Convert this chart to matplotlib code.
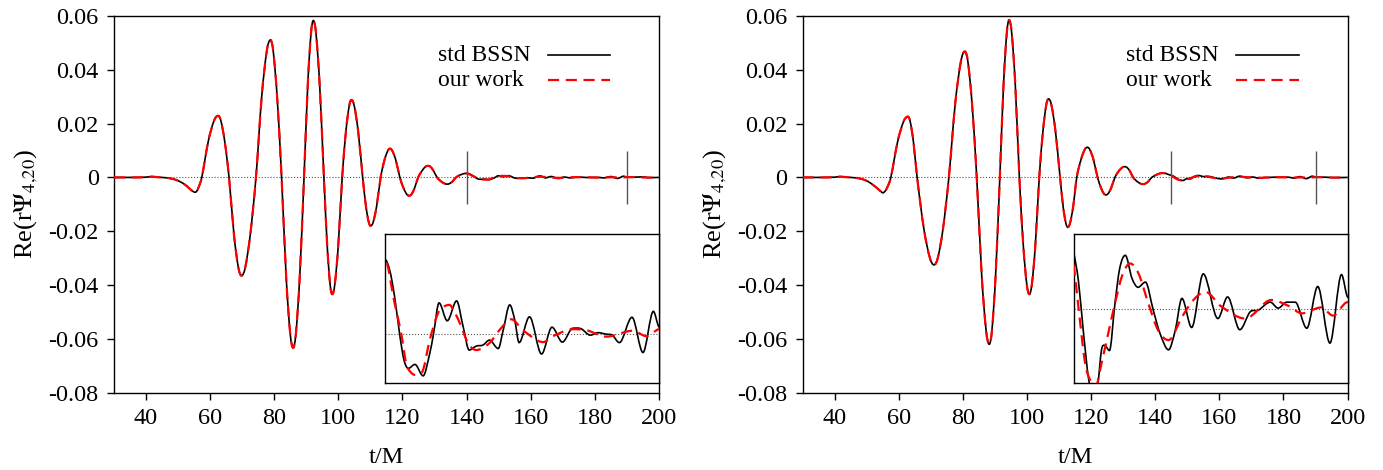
import numpy as np
import matplotlib
matplotlib.use("Agg")
import matplotlib.pyplot as plt
from matplotlib.path import Path
from matplotlib.patches import PathPatch

plt.rcParams['font.family'] = ['Liberation Serif', 'DejaVu Serif']
plt.rcParams['mathtext.fontset'] = 'stix'
plt.rcParams['axes.unicode_minus'] = False

# ---- left panel: common waveform up to t=140 (both runs overlap there)
t_left_main = [30, 36, 40, 41.8, 43.5, 46, 48.5, 50.5, 52.5, 54.0, 55.3, 55.83, 56.56,
               57.4, 59.44, 61.23, 62.5, 63.35, 64.54, 65.9, 67.46, 68.83, 69.8, 70.93, 72.5,
               74.3, 76.1, 77.68, 78.8, 79.68, 80.9, 82.3, 83.74, 85.0, 85.9, 86.75, 87.94,
               89.3, 90.46, 91.48, 92.2, 93.03, 94.18, 95.5, 96.54, 97.45, 98.1, 98.88, 99.96,
               101.2, 102.36, 103.38, 104.1, 104.98, 106.2, 107.6, 108.6, 109.48, 110.1, 110.88, 111.96,
               113.2, 114.36, 115.38, 116.1, 116.88, 117.96, 119.2, 120.36, 121.38, 122.1, 122.8, 123.78,
               124.9, 126.14, 127.2, 128.0, 128.7, 129.68, 130.8, 132.08, 133.2, 134.0, 134.68, 135.62,
               136.7, 138.0, 139.2, 140.0]
v_left_main = [0, 0, 0.0001, 0.0003, 0.0001, -0.0001, -0.0006, -0.0015, -0.0030, -0.0046, -0.0055, -0.0051, -0.0032,
               0, 0.0135, 0.0211, 0.0229, 0.0211, 0.0135, 0, -0.0215, -0.0336, -0.0365, -0.0336, -0.0215,
               0, 0.0301, 0.0470, 0.0511, 0.0470, 0.0301, 0, -0.0373, -0.0582, -0.0633, -0.0582, -0.0373,
               0, 0.0344, 0.0536, 0.0583, 0.0536, 0.0344, 0, -0.0256, -0.0399, -0.0434, -0.0399, -0.0256,
               0, 0.0170, 0.0265, 0.0288, 0.0265, 0.0170, 0, -0.0106, -0.0166, -0.0180, -0.0166, -0.0106,
               0, 0.0063, 0.0098, 0.0107, 0.0098, 0.0063, 0, -0.0040, -0.0063, -0.0068, -0.0063, -0.0040,
               0, 0.0025, 0.0040, 0.0043, 0.0040, 0.0025, 0, -0.0015, -0.0023, -0.0025, -0.0023, -0.0015,
               0, 0.0009, 0.0014, 0.0015]

# left panel tails (t > 140), values in units of 1e-3
t_left_std_tail = [140.9, 141.8, 142.7, 143.5, 144.3, 145.5, 147.0, 148.2, 148.9, 149.9, 151.4, 153.1,
                   154.3, 155.4, 156.7, 157.9, 159.1, 160.7, 161.6, 162.8, 163.7, 164.5, 166.4, 168.6,
                   170.5, 172.4, 174.3, 175.8, 177.5, 178.9, 180.4, 181.5, 182.8, 185.1, 187.1, 189.0,
                   190.0, 192.0, 195.0, 197.0, 200.0]
v_left_std_tail = [1.28, 0.74, 0.0, -0.53, -0.70, -0.62, -0.85, -0.40, 0.0, 0.62, 0.26, 0.66,
                   0.14, -0.33, -0.25, -0.23, -0.13, -0.30, 0.07, 0.58, 0.28, -0.18, 0.34, -0.41,
                   0.13, -0.17, 0.11, 0.10, -0.03, 0.02, -0.01, -0.03, -0.18, 0.33, -0.38, 0.45,
                   0.14, 0.1, 0.2, -0.1, 0.0]
t_left_our_tail = [141.8, 143.0, 143.9, 144.6, 145.5, 146.3, 147.0, 148.2, 149.7, 150.7, 151.8, 152.7,
                   153.7, 155.2, 156.7, 159.1, 160.9, 163.1, 165.2, 168.9, 170.7, 174.3, 176.8, 180.4,
                   185.3, 187.7, 190.0, 193.0, 196.0, 200.0]
v_left_our_tail = [0.61, 0.0, -0.60, -0.76, -0.83, -0.80, -0.73, -0.13, 0.41, 0.54, 0.58, 0.44,
                   0.21, -0.19, -0.33, -0.19, 0.07, 0.29, 0.07, -0.17, -0.05, 0.09, 0.07, -0.06,
                   0.06, -0.05, 0.09, 0.1, -0.05, 0.0]

# ---- right panel
t_right_main = [30, 36, 40, 41.6, 43.5, 46, 48.5, 50.5, 52.5, 54.0, 55.0, 55.63, 56.5,
                57.5, 59.62, 61.48, 62.8, 63.53, 64.54, 65.7, 67.82, 69.68, 71.0, 72.15, 73.76,
                75.6, 77.6, 79.35, 80.6, 81.53, 82.82, 84.3, 85.86, 87.23, 88.2, 89.03, 90.18,
                91.5, 92.66, 93.68, 94.4, 95.2, 96.32, 97.6, 98.84, 99.93, 100.7, 101.48, 102.56,
                103.8, 104.96, 105.98, 106.7, 107.6, 108.86, 110.3, 111.26, 112.1, 112.7, 113.4, 114.38,
                115.5, 116.82, 117.98, 118.8, 119.6, 120.72, 122.0, 123.04, 123.95, 124.6, 125.3, 126.28,
                127.4, 128.64, 129.72, 130.5, 131.15, 132.06, 133.1, 134.34, 135.42, 136.2, 136.88, 137.82,
                138.9, 140.26, 141.45, 142.3, 143.2, 144.1]
v_right_main = [0, 0, 0.0001, 0.0003, 0.0001, -0.0001, -0.0006, -0.0016, -0.0033, -0.0048, -0.0057, -0.0052, -0.0034,
                0, 0.0133, 0.0208, 0.0226, 0.0208, 0.0133, 0, -0.0192, -0.0299, -0.0325, -0.0299, -0.0192,
                0, 0.0276, 0.0431, 0.0468, 0.0431, 0.0276, 0, -0.0366, -0.0570, -0.0620, -0.0570, -0.0366,
                0, 0.0345, 0.0538, 0.0585, 0.0538, 0.0345, 0, -0.0256, -0.0399, -0.0434, -0.0399, -0.0256,
                0, 0.0172, 0.0269, 0.0292, 0.0269, 0.0172, 0, -0.0109, -0.0170, -0.0185, -0.0170, -0.0109,
                0, 0.0066, 0.0103, 0.0112, 0.0103, 0.0066, 0, -0.0038, -0.0060, -0.0065, -0.0060, -0.0038,
                0, 0.0024, 0.0037, 0.0040, 0.0037, 0.0024, 0, -0.0015, -0.0023, -0.0025, -0.0023, -0.0015,
                0, 0.0009, 0.0015, 0.0016, 0.0015, 0.0011]

t_right_std_tail = [145.0, 145.8, 146.6, 147.5, 148.3, 149.0, 149.6, 150.1, 150.9, 151.8, 152.6, 153.5,
                    154.6, 155.6, 156.8, 158.1, 159.2, 160.6, 161.7, 162.8, 164.4, 166.3, 168.7, 170.3,
                    172.3, 174.0, 175.3, 177.3, 178.6, 180.0, 181.4, 183.3, 185.1, 187.1, 189.0, 190.0,
                    193.0, 196.0, 200.0]
v_right_std_tail = [0.77, 0.38, -0.29, -0.95, -1.15, -1.0, -0.55, -0.49, -0.56, 0.07, 0.55, 0.72,
                    0.41, 0.29, 0.36, -0.02, -0.33, -0.55, -0.29, 0.14, -0.25, 0.47, -0.13, 0.16,
                    -0.28, -0.04, -0.02, 0.09, 0.01, 0.09, 0.09, -0.26, 0.30, -0.46, 0.46, 0.16,
                    0.1, -0.1, 0.0]
t_right_our_tail = [145.0, 145.8, 146.9, 147.7, 148.6, 149.6, 150.7, 151.8, 153.0, 154.3, 155.7, 157.3,
                    158.9, 160.6, 162.8, 164.7, 166.6, 169.3, 173.2, 177.5, 180.3, 182.5, 185.7, 187.6,
                    190.0, 193.0, 196.0, 200.0]
v_right_our_tail = [0.61, 0.03, -0.73, -0.95, -1.05, -0.73, -0.33, 0.07, 0.45, 0.61, 0.47, 0.07,
                    -0.29, -0.42, -0.11, 0.12, 0.23, 0.03, -0.13, 0.12, 0.04, -0.06, 0.02, -0.09,
                    0.09, 0.05, -0.05, 0.0]

windows = {'left': (140, 190), 'right': (145, 190)}
inset_ylims = {'left': (-0.001, 0.002), 'right': (-0.001, 0.001)}

xticks = [40, 60, 80, 100, 120, 140, 160, 180, 200]
yticks = [-0.08, -0.06, -0.04, -0.02, 0, 0.02, 0.04, 0.06]
ytick_labels = ['-0.08', '-0.06', '-0.04', '-0.02', '0', '0.02', '0.04', '0.06']
labels = ['std BSSN', 'our work']

FS = 17.5
STD = dict(edgecolor='black', lw=1.2)
OUR = dict(edgecolor='red', lw=1.6, linestyle=(0, (5, 3)))


def join(t_main, v_main, t_tail, v_tail):
    t = np.array(t_main + t_tail, dtype=float)
    v = np.array(v_main + [x * 1e-3 for x in v_tail])
    return t, v


def curve_path(t, v):
    # smooth Bezier path through the read points (Hermite tangents, flat at extrema)
    n = len(t)
    m = np.zeros(n)
    for i in range(1, n - 1):
        if (v[i] - v[i - 1]) * (v[i + 1] - v[i]) > 0:
            m[i] = (v[i + 1] - v[i - 1]) / (t[i + 1] - t[i - 1])
    verts = [(t[0], v[0])]
    codes = [Path.MOVETO]
    for i in range(n - 1):
        h = t[i + 1] - t[i]
        verts += [(t[i] + h / 3, v[i] + m[i] * h / 3),
                  (t[i + 1] - h / 3, v[i + 1] - m[i + 1] * h / 3),
                  (t[i + 1], v[i + 1])]
        codes += [Path.CURVE4] * 3
    return Path(verts, codes)


def draw(ax, std, our, z=3):
    ax.add_patch(PathPatch(curve_path(*std), fill=False, zorder=z, **STD))
    ax.add_patch(PathPatch(curve_path(*our), fill=False, zorder=z + 1, capstyle='butt', **OUR))


def panel(ax, std, our, win, iylim):
    ax.axhline(0, color='#555555', ls=':', lw=0.8, zorder=1)
    draw(ax, std, our)
    ax.vlines(list(win), -0.01, 0.01, color='#555555', lw=1.0, zorder=5)
    ax.set_xlim(30, 200)
    ax.set_ylim(-0.08, 0.06)
    ax.set_xticks(xticks)
    ax.set_yticks(yticks)
    ax.set_yticklabels(ytick_labels)
    ax.tick_params(direction='out', length=5, width=1, labelsize=FS, pad=6)
    ax.set_xlabel('t/M', fontsize=FS, labelpad=13)
    ax.set_ylabel(r'Re(r$\Psi_{4{,}20}$)', fontsize=19, labelpad=6)
    for s in ax.spines.values():
        s.set_linewidth(1.0)

    # key (text left, sample on the right, gnuplot style)
    for k, (lab, sty) in enumerate(zip(labels, [STD, OUR])):
        y = 0.896 - 0.066 * k
        ax.text(0.594, y, lab, transform=ax.transAxes, fontsize=17, va='center', ha='left')
        ax.plot([0.796, 0.910], [y, y], transform=ax.transAxes, color=sty['edgecolor'],
                lw=sty['lw'], ls=sty.get('linestyle', '-'))

    ins = ax.inset_axes([0.497, 0.025, 0.503, 0.395], zorder=6)
    ins.axhline(0, color='#555555', ls=':', lw=0.8)
    draw(ins, std, our)
    ins.set_xlim(*win)
    ins.set_ylim(*iylim)
    ins.set_xticks([])
    ins.set_yticks([])
    for s in ins.spines.values():
        s.set_linewidth(1.0)


fig = plt.figure(figsize=(13.83, 4.70), dpi=100)
ax1 = fig.add_axes([0.0824, 0.1645, 0.394, 0.8015])
ax2 = fig.add_axes([0.5804, 0.1645, 0.394, 0.8015])

left_std = join(t_left_main, v_left_main, t_left_std_tail, v_left_std_tail)
left_our = join(t_left_main, v_left_main, t_left_our_tail, v_left_our_tail)
right_std = join(t_right_main, v_right_main, t_right_std_tail, v_right_std_tail)
right_our = join(t_right_main, v_right_main, t_right_our_tail, v_right_our_tail)

panel(ax1, left_std, left_our, windows['left'], inset_ylims['left'])
panel(ax2, right_std, right_our, windows['right'], inset_ylims['right'])

fig.savefig('out.png', dpi=100)
